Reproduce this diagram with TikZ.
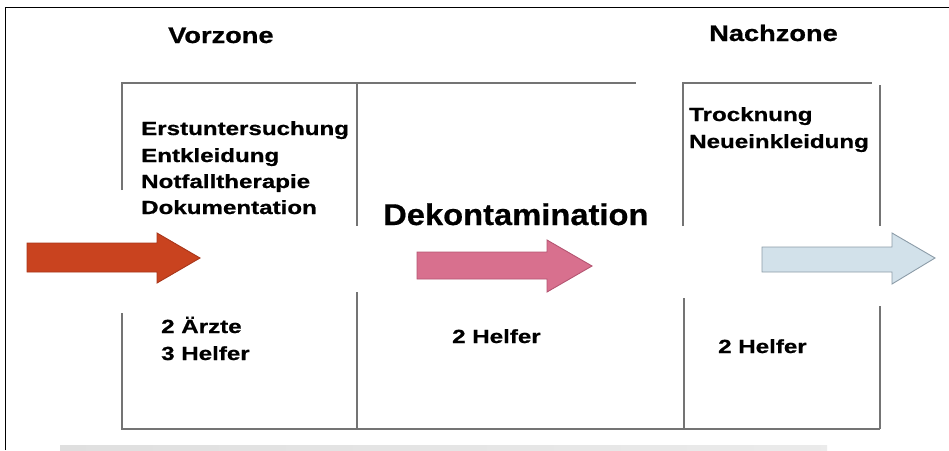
\documentclass[tikz,border=0pt]{standalone}
\usepackage{fontspec}
\setmainfont{Liberation Sans}
\newfontfamily\listfont[FakeStretch=1.27,FakeBold=0.8]{Liberation Sans}
\newfontfamily\titlefont[FakeStretch=1.21,FakeBold=0.8]{Liberation Sans}
\newfontfamily\bigfont[FakeStretch=1.09,FakeBold=0.5]{Liberation Sans}
\definecolor{zoneline}{HTML}{747474}
\definecolor{redfill}{HTML}{C9431F}
\definecolor{reddraw}{HTML}{A8361A}
\definecolor{pinkfill}{HTML}{D8708E}
\definecolor{pinkdraw}{HTML}{B45572}
\definecolor{bluefill}{HTML}{D2E1EA}
\definecolor{bluedraw}{HTML}{8C9CA8}
\tikzset{
  zl/.style={draw=zoneline, line width=1.4pt},
  listtxt/.style={anchor=base west, inner sep=0pt, font=\listfont\bfseries\fontsize{19}{21}\selectfont},
  titletxt/.style={anchor=base west, inner sep=0pt, font=\titlefont\bfseries\fontsize{22.5}{24}\selectfont},
  bigtxt/.style={anchor=base west, inner sep=0pt, font=\bigfont\bfseries\fontsize{30}{32}\selectfont},
  blockarrow/.style={line width=0.9pt, line join=miter}
}
\begin{document}
\begin{tikzpicture}[x=1pt,y=-1pt]
\useasboundingbox (0,0) rectangle (949,450);
% outer frame
\draw[black, line width=1pt] (5,450) -- (5,7) -- (949,7);
% grey bar
\shade[left color=gray!25, right color=gray!16] (60,445) rectangle (827,450);
% zone lines
\draw[zl] (122,190) -- (122,83) -- (636,83);
\draw[zl] (122,313) -- (122,429) -- (880,429);
\draw[zl] (357,83) -- (357,226);
\draw[zl] (357,292) -- (357,429);
\draw[zl] (683,226) -- (683,83) -- (872,83);
\draw[zl] (684,298) -- (684,429);
\draw[zl] (880,85) -- (880,226);
\draw[zl] (880,306) -- (880,429);
% arrows
\draw[blockarrow, draw=reddraw, fill=redfill]
  (27,243) -- (157,243) -- (157,233) -- (200,258) -- (157,283) -- (157,272) -- (27,272) -- cycle;
\draw[blockarrow, draw=pinkdraw, fill=pinkfill]
  (417,252) -- (547,252) -- (547,240) -- (592,266) -- (547,292) -- (547,279) -- (417,279) -- cycle;
\draw[blockarrow, draw=bluedraw, fill=bluefill]
  (762,247) -- (892,247) -- (892,233) -- (935,258) -- (892,284) -- (892,272) -- (762,272) -- cycle;
% titles
\node[titletxt] (vor) at (168,43) {Vorzone};
\node[titletxt] (nach) at (709,41) {Nachzone};
% Vorzone list
\node[listtxt] (l1) at (141,135) {Erstuntersuchung};
\node[listtxt] (l2) at (141,162) {Entkleidung};
\node[listtxt] (l3) at (141,188) {Notfalltherapie};
\node[listtxt] (l4) at (141,214) {Dokumentation};
% Dekontamination
\node[bigtxt] (deko) at (383,225) {Dekontamination};
% Nachzone list
\node[listtxt] (n1) at (689,121) {Trocknung};
\node[listtxt] (n2) at (689,148) {Neueinkleidung};
% staff
\node[listtxt] (s1) at (161,333) {2 Ärzte};
\node[listtxt] (s2) at (161,360) {3 Helfer};
\node[listtxt] (s3) at (452,343) {2 Helfer};
\node[listtxt] (s4) at (718,353) {2 Helfer};
\end{tikzpicture}
\end{document}
